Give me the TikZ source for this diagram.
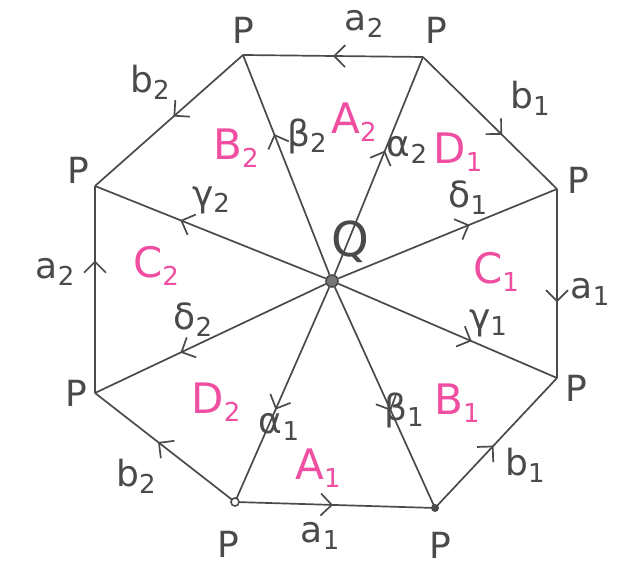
\documentclass[tikz,border=0pt]{standalone}
\usepackage{fontspec}
\setmainfont{DejaVu Sans}
\usetikzlibrary{decorations.markings,arrows.meta}
\definecolor{ink}{HTML}{4A4A4A}
\definecolor{pinkish}{HTML}{F04EA0}
\newcommand{\sbs}[2]{#1\raisebox{-0.35ex}{\fontsize{13}{13}\selectfont #2}}
\begin{document}
\begin{tikzpicture}[x=0.5pt,y=-0.5pt,
  edge/.style={draw=ink, line width=0.85pt},
  mk/.style={postaction={decorate,decoration={markings,mark=at position #1 with {\arrow{Straight Barb[length=5.5pt,width=11pt,line width=0.85pt]}}}}},
  lbl/.style={text=ink, font=\fontsize{18}{18}\selectfont, inner sep=0pt},
  reg/.style={text=pinkish, font=\fontsize{21}{21}\selectfont, inner sep=0pt}]
\useasboundingbox[fill=white] (0,0) rectangle (628,565);
% vertices
\coordinate (V1) at (243,55);
\coordinate (V2) at (423,57);
\coordinate (V3) at (557,189);
\coordinate (V4) at (557,378);
\coordinate (V5) at (435,508);
\coordinate (V6) at (235,502);
\coordinate (V7) at (95,393);
\coordinate (V8) at (95,186);
\node[circle, draw=ink, fill=ink!75, minimum size=6pt, inner sep=0pt, line width=0.8pt] (Q) at (332,281) {};
% boundary edges
\draw[edge,mk=0.5]  (V2) -- (V1);
\draw[edge,mk=0.47] (V1) -- (V8);
\draw[edge,mk=0.64] (V7) -- (V8);
\draw[edge,mk=0.55] (V6) -- (V7);
\draw[edge,mk=0.49] (V6) -- (V5);
\draw[edge,mk=0.48] (V5) -- (V4);
\draw[edge,mk=0.6]  (V3) -- (V4);
\draw[edge,mk=0.59] (V2) -- (V3);
% spokes
\draw[edge,mk=0.64] (Q) -- (V1);
\draw[edge,mk=0.57] (Q) -- (V2);
\draw[edge,mk=0.6]  (Q) -- (V3);
\draw[edge,mk=0.61] (Q) -- (V4);
\draw[edge,mk=0.56] (Q) -- (V5);
\draw[edge,mk=0.57] (Q) -- (V6);
\draw[edge,mk=0.63] (Q) -- (V7);
\draw[edge,mk=0.63] (Q) -- (V8);
% vertex marks
\node[circle, draw=ink, fill=white, minimum size=4pt, inner sep=0pt, line width=0.8pt] (m6) at (V6) {};
\node[circle, fill=ink, minimum size=4pt, inner sep=0pt] (m5) at (V5) {};
% P labels
\node[lbl] (p1) at (243,30) {P};
\node[lbl] (p2) at (436,30) {P};
\node[lbl] (p3) at (578,180) {P};
\node[lbl] (p4) at (576,388) {P};
\node[lbl] (p5) at (440,545) {P};
\node[lbl] (p6) at (228,544) {P};
\node[lbl] (p7) at (76,393) {P};
\node[lbl] (p8) at (78,170) {P};
\node[lbl, font=\fontsize{24}{24}\selectfont] (q) at (350,242) {Q};
% edge labels
\node[lbl] (la2t) at (364,24) {\sbs{a}{2}};
\node[lbl] (lb2t) at (150,82) {\sbs{b}{2}};
\node[lbl] (la2l) at (55,272) {\sbs{a}{2}};
\node[lbl] (lb2b) at (136,476) {\sbs{b}{2}};
\node[lbl] (la1b) at (320,536) {\sbs{a}{1}};
\node[lbl] (lb1b) at (525,465) {\sbs{b}{1}};
\node[lbl] (la1r) at (590,292) {\sbs{a}{1}};
\node[lbl] (lb1t) at (530,98) {\sbs{b}{1}};
% spoke labels
\node[lbl] (beta2) at (307,136) {\sbs{β}{2}};
\node[lbl] (alpha2) at (407,150) {\sbs{α}{2}};
\node[lbl] (delta1) at (468,198) {\sbs{δ}{1}};
\node[lbl] (gamma1) at (488,323) {\sbs{γ}{1}};
\node[lbl] (beta1) at (404,410) {\sbs{β}{1}};
\node[lbl] (alpha1) at (279,427) {\sbs{α}{1}};
\node[lbl] (delta2) at (193,320) {\sbs{δ}{2}};
\node[lbl] (gamma2) at (211,200) {\sbs{γ}{2}};
% region labels
\node[reg] (B2) at (236,148) {\sbs{B}{2}};
\node[reg] (A2) at (354,122) {\sbs{A}{2}};
\node[reg] (D1) at (458,152) {\sbs{D}{1}};
\node[reg] (C1) at (496,272) {\sbs{C}{1}};
\node[reg] (B1) at (457,403) {\sbs{B}{1}};
\node[reg] (A1) at (318,468) {\sbs{A}{1}};
\node[reg] (D2) at (216,402) {\sbs{D}{2}};
\node[reg] (C2) at (156,266) {\sbs{C}{2}};
\end{tikzpicture}
\end{document}
